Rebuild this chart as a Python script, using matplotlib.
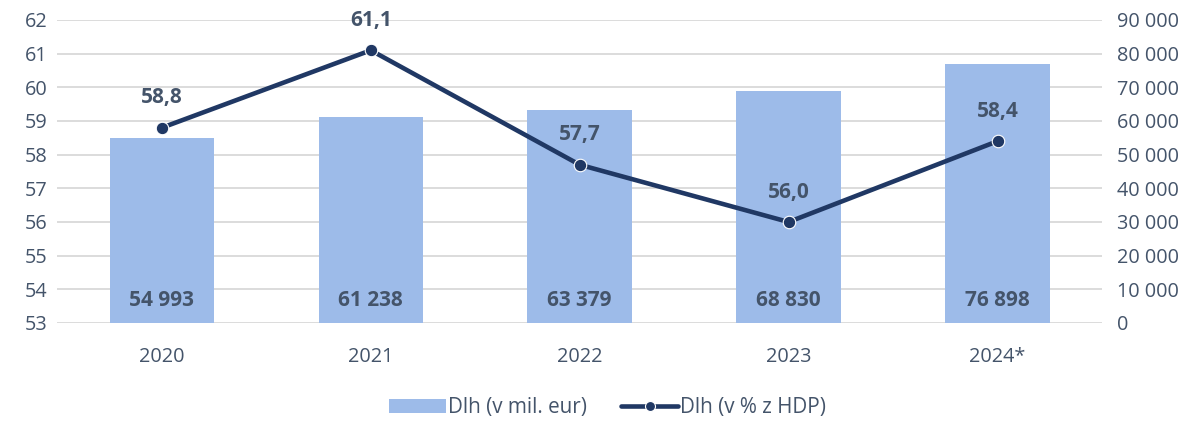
import matplotlib
matplotlib.use("Agg")
import matplotlib.pyplot as plt
from matplotlib.ticker import FuncFormatter

years = ["2020", "2021", "2022", "2023", "2024*"]
debt_eur = [54993, 61238, 63379, 68830, 76898]
debt_pct = [58.8, 61.1, 57.7, 56.0, 58.4]

plt.rcParams['font.family'] = ['Open Sans', 'DejaVu Sans']
txt = '#44546A'
bar_c = '#9DBBE9'
line_c = '#203864'
fs = 14.3

fig = plt.figure(figsize=(11.96, 4.21), dpi=100)
ax = fig.add_axes([0.048, 0.2328, 0.8734, 0.7197])
ax2 = ax.twinx()

x = list(range(len(years)))
# bars on the right axis
ax2.bar(x, debt_eur, width=0.5, color=bar_c, zorder=2, label='Dlh (v mil. eur)')
ax2.set_ylim(0, 90000)
ax2.set_yticks(range(0, 90001, 10000))
ax2.yaxis.set_major_formatter(FuncFormatter(lambda v, p: f"{int(v):,}".replace(",", " ")))
for xi, v in zip(x, debt_eur):
    ax2.text(xi, 6600, f"{v:,}".replace(",", " "), ha='center', va='center',
             fontsize=15, fontweight='bold', color=txt, zorder=5)

# line on the left axis, drawn above bars
ax.set_zorder(ax2.get_zorder() + 1)
ax.patch.set_visible(False)
ax.plot(x, debt_pct, color=line_c, lw=3.3, marker='o', markersize=9,
        markeredgecolor='white', markeredgewidth=0.8, zorder=4,
        label='Dlh (v % z HDP)', solid_capstyle='round')
ax.set_ylim(53, 62)
ax.set_yticks(range(53, 63))
for xi, v in zip(x, debt_pct):
    ax.annotate(f"{v:.1f}".replace(".", ","), (xi, v), xytext=(0, 21.5), textcoords='offset points',
                ha='center', va='center', fontsize=15, fontweight='bold', color=txt)

ax.set_xlim(-0.5, 4.5)
ax.set_xticks(x)
ax.set_xticklabels(years)

# gridlines
ax2.yaxis.grid(True, color='#D9D9D9', lw=1.3, zorder=0)
ax2.set_axisbelow(True)

for a in (ax, ax2):
    for s in a.spines.values():
        s.set_visible(False)
    a.tick_params(length=0, labelsize=fs, colors=txt)
ax.tick_params(axis='x', pad=17)
ax.tick_params(axis='y', pad=7)
ax2.tick_params(axis='y', pad=11)

h1, l1 = ax2.get_legend_handles_labels()
h2, l2 = ax.get_legend_handles_labels()
fig.legend(h1 + h2, l1 + l2, loc='center', bbox_to_anchor=(0.508, 0.032), ncol=2,
           frameon=False, fontsize=14.9, labelcolor=txt, handlelength=2.75,
           handletextpad=0.1, columnspacing=1.65, markerscale=0.8)

fig.savefig("out.png", dpi=100)
